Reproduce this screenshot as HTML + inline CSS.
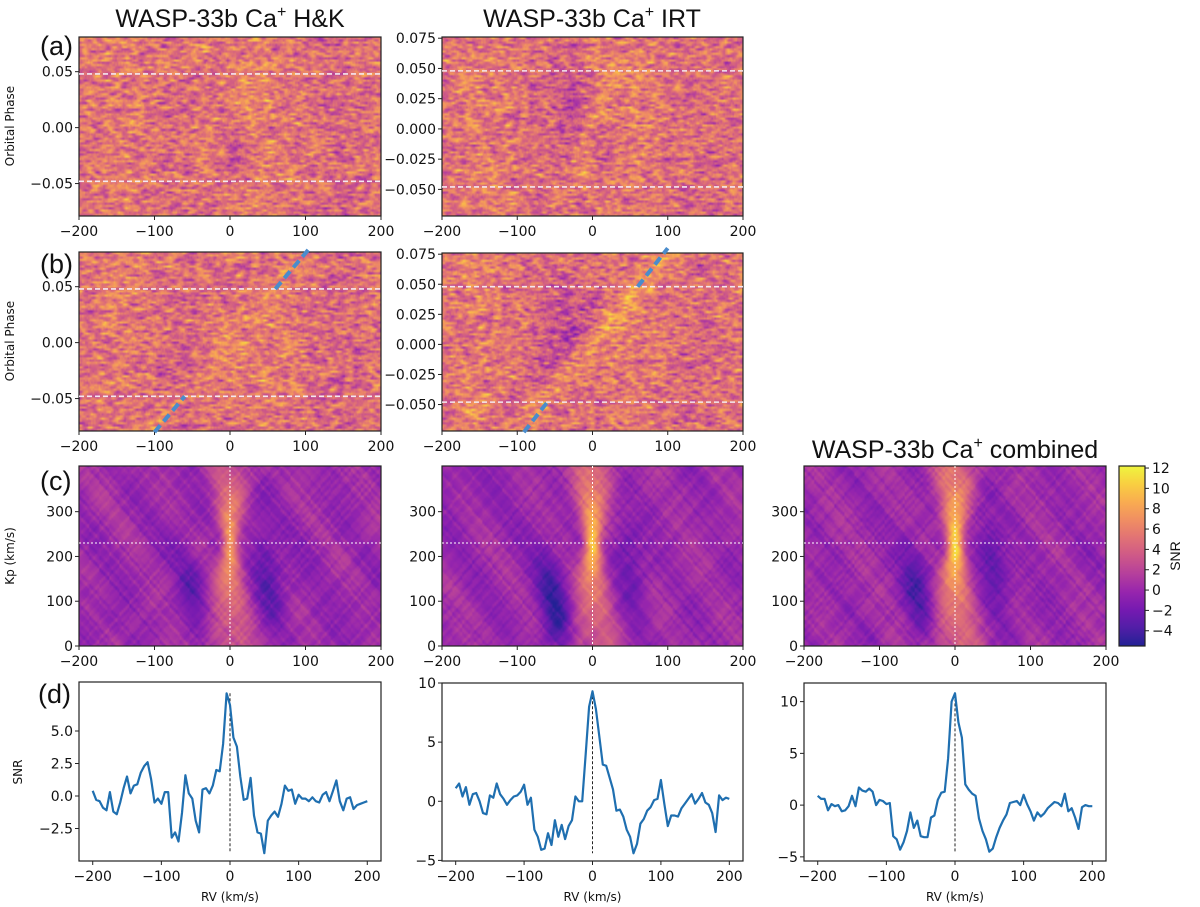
<!DOCTYPE html>
<html><head><meta charset="utf-8">
<style>
html,body{margin:0;padding:0;background:#fff;}
#wrap{position:relative;width:1200px;height:907px;overflow:hidden;background:#fff;}
canvas{position:absolute;}
svg{position:absolute;left:0;top:0;}
</style></head>
<body>
<div id="wrap">
<svg id="svg" width="1200" height="907"></svg>
</div>
<script>
// ---------- data ----------
const rv = [-200,-195,-190,-185,-180,-175,-170,-165,-160,-155,-150,-145,-140,-135,-130,-125,-120,-115,-110,-105,-100,-95,-90,-85,-80,-75,-70,-65,-60,-55,-50,-45,-40,-35,-30,-25,-20,-15,-10,-5,0,5,10,15,20,25,30,35,40,45,50,55,60,65,70,75,80,85,90,95,100,105,110,115,120,125,130,135,140,145,150,155,160,165,170,175,180,185,190,195,200];
const snrHK = [0.4,-0.3,-0.4,-0.9,-1.1,0.3,-1.2,-1.4,-0.5,0.6,1.5,0.2,0.8,0.9,1.8,2.3,2.6,1.3,-0.5,-0.2,-0.6,0.3,0.3,-3.2,-2.8,-3.5,-1.3,1.6,0.2,-0.2,-1.9,-2.8,0.5,0.6,0.2,0.8,2.0,1.9,4.0,7.9,7.0,4.5,3.8,1.5,-0.3,-0.2,1.4,-1.5,-2.8,-2.9,-4.4,-1.9,-1.5,-1.2,-1.6,-0.6,0.8,0.4,0.5,-0.6,0.1,-0.2,-0.2,-0.4,-0.1,-0.4,-0.5,0.1,0.3,-0.4,0.4,1.2,-0.4,-1.1,-0.2,-0.1,-1.0,-0.7,-0.6,-0.5,-0.4];
const snrIRT = [1.1,1.5,0.4,1.2,-0.3,0.6,0.7,0.0,-1.0,-1.1,0.5,0.3,1.5,0.6,0.2,-0.3,0.1,0.4,0.5,0.8,1.4,-0.3,0.3,-2.4,-3.0,-4.1,-4.0,-2.7,-3.7,-1.6,-3.0,-2.0,-3.2,-2.1,-1.6,0.4,0.0,0.0,4.0,8.0,9.3,7.8,5.5,3.1,3.0,2.0,1.0,-0.8,-0.7,-1.3,-2.4,-3.0,-4.4,-3.6,-1.9,-1.5,-0.8,-0.5,0.1,0.2,1.8,-0.2,-2.1,-1.2,-1.2,-1.3,-0.6,-0.2,0.2,0.6,-0.2,0.2,0.7,-0.1,-0.3,-1.0,-2.6,0.5,0.1,0.3,0.2];
const snrComb = [0.9,0.6,0.6,-0.5,0.1,-0.1,0.0,-0.6,-0.5,-0.1,0.9,-0.1,1.7,1.4,1.3,1.6,1.3,0.0,0.5,0.4,0.1,0.2,-3.0,-3.3,-4.3,-3.6,-2.5,-0.7,-2.2,-1.5,-3.0,-3.1,-3.1,-1.2,-1.0,0.5,1.2,1.3,4.5,10.0,10.8,8.0,6.5,2.0,1.5,1.1,0.9,-1.3,-2.5,-3.3,-4.5,-4.2,-3.1,-2.2,-1.5,-0.9,0.2,0.3,0.4,0.0,1.0,0.1,-0.6,-1.5,-0.7,-1.1,-0.8,-0.3,0.0,0.3,0.2,-0.1,1.1,-0.6,-0.3,-1.2,-2.3,-0.2,0.0,-0.1,-0.1];
const cbTicks = [-4,-2,0,2,4,6,8,10,12];
const kpTicks = [0,100,200,300];
const rvTicks = [-200,-100,0,100,200];
const phaseTicksL = [-0.05,0,0.05];
const phaseTicksR = [-0.05,-0.025,0,0.025,0.05,0.075];
// blobs: [v, phase, sigmaV, sigmaPhase, amplitude]
const blobsA1 = [[10,-0.02,15,0.02,-0.10],[-30,-0.015,12,0.02,0.08],[20,0.03,15,0.02,0.06],[-40,0.07,20,0.01,0.06]];
const blobsA2 = [[-25,0.02,15,0.02,-0.14],[-15,-0.03,10,0.015,0.12],[5,0.01,12,0.02,0.08],[15,-0.02,12,0.015,-0.10],[30,0.045,20,0.015,0.06]];
const blobsB1 = [[-20,0.0,20,0.03,0.05],[-80,-0.02,20,0.02,-0.05]];
const blobsB2 = [[-40,0.02,20,0.02,-0.10],[-160,-0.055,8,0.004,0.15],[-165,0.06,12,0.01,0.06]];
const trailAmp = [0.0,0.0,0.06,0.12];
// Kp-map parameters
const kpPeak = [8.5,10.5,11.5];
const troughL = [[-2.8,120],[-4.8,80],[-3.8,120]];
const troughR = [[-3.5,150],[-2.8,170],[-3.5,180]];

// ---------- helpers ----------
const NS='http://www.w3.org/2000/svg';
const svg=document.getElementById('svg');
const wrap=document.getElementById('wrap');
function el(tag,attrs,parent){const e=document.createElementNS(NS,tag);for(const k in attrs)e.setAttribute(k,attrs[k]);(parent||svg).appendChild(e);return e;}
const PL=['#0d0887','#41049d','#6a00a8','#8f0da4','#b12a90','#cc4778','#e16462','#f2844b','#fca636','#fcce25','#f0f921'].map(h=>[parseInt(h.slice(1,3),16),parseInt(h.slice(3,5),16),parseInt(h.slice(5,7),16)]);
function plasma(t){t=Math.max(0,Math.min(1,t));const f=t*10,i=Math.min(9,Math.floor(f)),r=f-i;const a=PL[i],b=PL[i+1];return [a[0]+(b[0]-a[0])*r,a[1]+(b[1]-a[1])*r,a[2]+(b[2]-a[2])*r];}
let seed=12345;function rnd(){seed=(seed*1103515245+12345)&0x7fffffff;return seed/0x7fffffff;}
function fmtNum(v,d){const s=Math.abs(v).toFixed(d);return (v<0?'\u2212':'')+s;}
function scale(d0,d1,r0,r1){return v=>r0+(v-d0)/(d1-d0)*(r1-r0);}

function axes(box,xlim,ylim,xt,yt,xd,yd,name){
  const sx=scale(xlim[0],xlim[1],box.x,box.x+box.w), sy=scale(ylim[0],ylim[1],box.y+box.h,box.y);
  const g=el('g',{});
  
  
  el('rect',{x:box.x,y:box.y,width:box.w,height:box.h,fill:'none',stroke:'#222','stroke-width':1.2},g);
  xt.forEach(v=>{const x=sx(v);el('line',{x1:x,x2:x,y1:box.y+box.h,y2:box.y+box.h+4,stroke:'#222'},g);
    const t=el('text',{x:x,y:box.y+box.h+20,'text-anchor':'middle','font-size':14,'font-family':'DejaVu Sans, Liberation Sans, sans-serif',fill:'#111'},g);t.textContent=fmtNum(v,xd);
    });
  yt.forEach(v=>{const y=sy(v);el('line',{x1:box.x-4,x2:box.x,y1:y,y2:y,stroke:'#222'},g);
    const t=el('text',{x:box.x-6,y:y+5,'text-anchor':'end','font-size':14,'font-family':'DejaVu Sans, Liberation Sans, sans-serif',fill:'#111'},g);t.textContent=fmtNum(v,yd);
    });
  return {sx,sy,g};
}
function text(x,y,s,size,name,extra){const t=el('text',Object.assign({x:x,y:y,'font-size':size,'font-family':'Liberation Sans, DejaVu Sans, sans-serif',fill:'#111'},extra||{}));t.innerHTML=s;return t;}

function heat(box,nx,ny,fn,name){
  const c=document.createElement('canvas');c.width=nx;c.height=ny;
  c.style.left=box.x+'px';c.style.top=box.y+'px';c.style.width=box.w+'px';c.style.height=box.h+'px';
  
  
  const ctx=c.getContext('2d');const im=ctx.createImageData(nx,ny);
  for(let j=0;j<ny;j++)for(let i=0;i<nx;i++){const col=plasma(fn(i,j));const k=(j*nx+i)*4;
    im.data[k]=col[0]*0.9+22;im.data[k+1]=col[1]*0.88+26;im.data[k+2]=col[2]*0.85+34;im.data[k+3]=255;}
  ctx.putImageData(im,0,0);wrap.insertBefore(c,svg);
}

// ---------- boxes ----------
const A1={x:79,y:37,w:302,h:179},A2={x:442,y:37,w:301,h:179};
const B1={x:79,y:252,w:302,h:179},B2={x:442,y:253,w:301,h:178};
const C1={x:79,y:466,w:302,h:180},C2={x:442,y:466,w:301,h:180},C3={x:804,y:466,w:302,h:180};
const D1={x:79,y:682,w:302,h:179},D2={x:442,y:683,w:301,h:178},D3={x:804,y:683,w:302,h:178};
const CB={x:1119,y:466,w:26,h:180};
const phL=[-0.079,0.081],phR=[-0.072,0.076];

// ---------- phase maps ----------
function phaseMap(box,ph,blobs,tAmp,name){
  const nx=200,ny=80;
  const rows=[];for(let j=0;j<ny;j++){const raw=[];for(let i=0;i<nx+4;i++)raw.push(rnd()-0.5);
    const sm=[];for(let i=0;i<nx;i++)sm.push((raw[i]+2*raw[i+1]+2*raw[i+2]+raw[i+3]+raw[i+4])/4.2);rows.push(sm);}
  heat(box,nx,ny,(i,j)=>{
    const v=-200+400*(i+0.5)/nx, p=ph[1]-(ph[1]-ph[0])*(j+0.5)/ny;
    let t=0.6+0.45*rows[j][i]+0.03*Math.sin(v/30);
    blobs.forEach(b=>{t+=b[4]*Math.exp(-((v-b[0])**2)/(2*b[2]*b[2])-((p-b[1])**2)/(2*b[3]*b[3]));});
    if(tAmp){const c=1300*p;t+=tAmp*Math.exp(-((v-c)**2)/(2*12*12));t-=tAmp*0.5*Math.exp(-((v-c+40)**2)/(2*15*15));}
    return t;},name);
}
phaseMap(A1,phL,blobsA1,trailAmp[0],'hk-phase-map-a');
phaseMap(A2,phR,blobsA2,trailAmp[1],'irt-phase-map-a');
phaseMap(B1,phL,blobsB1,trailAmp[2],'hk-phase-map-b');
phaseMap(B2,phR,blobsB2,trailAmp[3],'irt-phase-map-b');

// ---------- Kp maps ----------
const vmin=-5.5,vmax=12.2;
function kpMap(box,k,name){
  const nx=150,ny=90;
  const tex=[];for(let i=0;i<nx+ny+10;i++)tex.push(rnd()-0.5);
  heat(box,nx,ny,(i,j)=>{
    const v=-200+400*(i+0.5)/nx, kp=402-402*(j+0.5)/ny;
    const d=kp-230, w=7+0.05*Math.abs(d);
    const amp=kpPeak[k]*(0.45+0.55*Math.exp(-d*d/(2*90*90)));
    let s=amp*(0.55*Math.exp(-((v+0.09*d)**2)/(2*w*w))+0.45*Math.exp(-((v-0.09*d)**2)/(2*w*w)));
    s+=troughL[k][0]*Math.exp(-((v+50+0.1*(kp-troughL[k][1]))**2)/(2*14*14)-((kp-troughL[k][1])**2)/(2*80*80));
    s+=troughR[k][0]*Math.exp(-((v-50+0.1*(kp-troughR[k][1]))**2)/(2*14*14)-((kp-troughR[k][1])**2)/(2*80*80));
    const a=Math.floor((v+200)/400*nx*0.6+kp/402*ny*0.5), b=Math.floor((v+200)/400*nx*0.6-kp/402*ny*0.5+ny);
    s+=0.1+1.6*(tex[Math.max(0,a)%tex.length])+1.4*(tex[Math.max(0,b)%tex.length])+0.7*Math.sin((v+0.3*kp)/14);
    return (s-vmin)/(vmax-vmin);},name);
}
kpMap(C1,0,'hk-kp-map');kpMap(C2,1,'irt-kp-map');kpMap(C3,2,'combined-kp-map');

// ---------- axes rows a,b ----------
[[A1,phL,phaseTicksL,2,'hk-axes-a'],[A2,phR,phaseTicksR,3,'irt-axes-a'],[B1,phL,phaseTicksL,2,'hk-axes-b'],[B2,phR,phaseTicksR,3,'irt-axes-b']].forEach(([bx,ph,pt,dd,nm],idx)=>{
  const ax=axes(bx,[-200,200],ph,rvTicks,pt,0,dd,nm);
  [-0.048,0.048].forEach(p=>{const l=el('line',{x1:bx.x,x2:bx.x+bx.w,y1:ax.sy(p),y2:ax.sy(p),stroke:'#f4e8f0','stroke-width':1.6,'stroke-dasharray':'5,3'});
    });
  if(idx>=2){
    [[ph[0]-0.001,-0.048],[0.048,ph[1]+0.004]].forEach(([p0,p1])=>{
      const l=el('line',{x1:ax.sx(1250*p0),y1:ax.sy(p0),x2:ax.sx(1250*p1),y2:ax.sy(p1),stroke:'#4a8ccc','stroke-width':4,'stroke-dasharray':'9,5'});
      });
  }
});
// ---------- axes row c ----------
[[C1,'hk-axes-c'],[C2,'irt-axes-c'],[C3,'combined-axes-c']].forEach(([bx,nm])=>{
  const ax=axes(bx,[-200,200],[0,402],rvTicks,kpTicks,0,0,nm);
  const h=el('line',{x1:bx.x,x2:bx.x+bx.w,y1:ax.sy(230),y2:ax.sy(230),stroke:'#fff','stroke-width':1,'stroke-dasharray':'2,2'});
  
  const v=el('line',{x1:ax.sx(0),x2:ax.sx(0),y1:bx.y,y2:bx.y+bx.h,stroke:'#fff','stroke-width':1,'stroke-dasharray':'2,2'});
  
});
// colorbar
const defs=el('defs',{});const lg=el('linearGradient',{id:'cbg',x1:0,y1:1,x2:0,y2:0},defs);
for(let i=0;i<=10;i++){const c=plasma(i/10);el('stop',{offset:(i*10)+'%','stop-color':`rgb(${Math.round(c[0]*0.9+22)},${Math.round(c[1]*0.88+26)},${Math.round(c[2]*0.85+34)})`},lg);}
const cbr=el('rect',{x:CB.x,y:CB.y,width:CB.w,height:CB.h,fill:'url(#cbg)',stroke:'#222','stroke-width':1.2});

const cby=scale(vmin,vmax,CB.y+CB.h,CB.y);
cbTicks.forEach(v=>{el('line',{x1:CB.x+CB.w,x2:CB.x+CB.w+4,y1:cby(v),y2:cby(v),stroke:'#222'});
  const t=el('text',{x:CB.x+CB.w+7,y:cby(v)+5,'font-size':14,'font-family':'DejaVu Sans, sans-serif',fill:'#111'});t.textContent=fmtNum(v,0);
  });
text(1180,556,'SNR',14,'colorbar-title',{transform:'rotate(-90 1180 556)','text-anchor':'middle'});

// ---------- row d ----------
[[D1,[-5.0,8.77],[-2.5,0,2.5,5],1,snrHK,'hk-snr-plot'],[D2,[-5.05,10],[-5,0,5,10],0,snrIRT,'irt-snr-plot'],[D3,[-5.4,11.8],[-5,0,5,10],0,snrComb,'combined-snr-plot']].forEach(([bx,yl,yt,dd,data,nm])=>{
  const ax=axes(bx,[-220,220],yl,rvTicks,yt,0,dd,nm);
  const mx=Math.max(...data),mn=Math.min(...data);
  const dl=el('line',{x1:ax.sx(0),x2:ax.sx(0),y1:ax.sy(mx),y2:ax.sy(mn),stroke:'#222','stroke-width':1,'stroke-dasharray':'3,2'});
  
  const p=el('path',{d:data.map((v,i)=>(i?'L':'M')+ax.sx(rv[i]).toFixed(1)+','+ax.sy(v).toFixed(1)).join(''),fill:'none',stroke:'#1f6fb0','stroke-width':2.2,'stroke-linejoin':'round'});
  
  text(bx.x+bx.w/2,bx.y+bx.h+40,'RV (km/s)',12,'x-axis-title',{'text-anchor':'middle','font-family':'DejaVu Sans, sans-serif'});
});

// ---------- titles & labels ----------
text(230,27,'WASP-33b Ca<tspan font-size="16" dy="-10">+</tspan><tspan dy="10"> H&amp;K</tspan>',25,'title-hk',{'text-anchor':'middle'});
text(592,27,'WASP-33b Ca<tspan font-size="16" dy="-10">+</tspan><tspan dy="10"> IRT</tspan>',25,'title-irt',{'text-anchor':'middle'});
text(955,458,'WASP-33b Ca<tspan font-size="16" dy="-10">+</tspan><tspan dy="10"> combined</tspan>',25,'title-combined',{'text-anchor':'middle'});
text(40,55,'(a)',27,'panel-label-a');
text(40,273,'(b)',27,'panel-label-b');
text(40,490,'(c)',27,'panel-label-c');
text(38,703,'(d)',27,'panel-label-d');
text(14,126,'Orbital Phase',12,'y-axis-title-a',{transform:'rotate(-90 14 126)','text-anchor':'middle','font-family':'DejaVu Sans, sans-serif'});
text(14,341,'Orbital Phase',12,'y-axis-title-b',{transform:'rotate(-90 14 341)','text-anchor':'middle','font-family':'DejaVu Sans, sans-serif'});
text(14,556,'Kp (km/s)',12,'y-axis-title-c',{transform:'rotate(-90 14 556)','text-anchor':'middle','font-family':'DejaVu Sans, sans-serif'});
text(22,772,'SNR',12,'y-axis-title-d',{transform:'rotate(-90 22 772)','text-anchor':'middle','font-family':'DejaVu Sans, sans-serif'});
</script>
</body></html>
